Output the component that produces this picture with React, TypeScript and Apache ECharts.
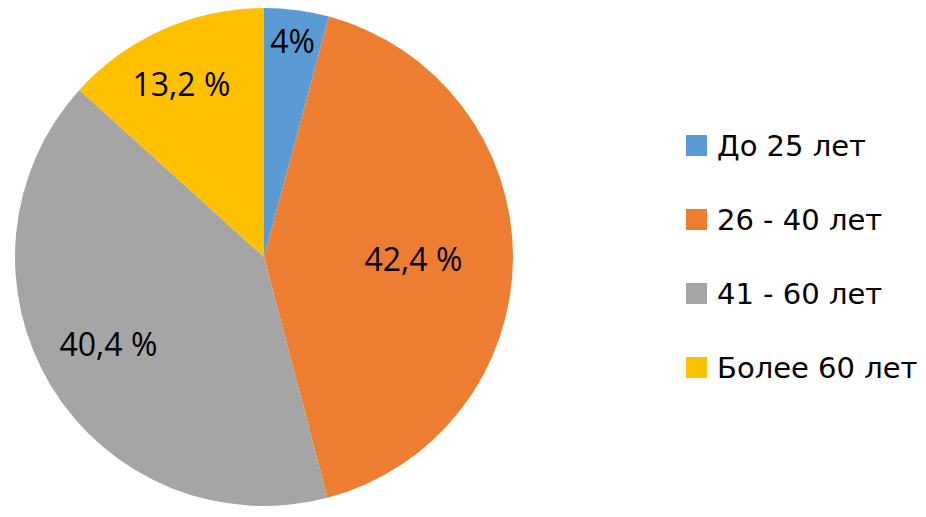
import React, { useEffect, useRef } from "react";
import * as echarts from "echarts";

const categories = ["До 25 лет", "26 - 40 лет", "41 - 60 лет", "Более 60 лет"];
const values = [4.2, 41.7, 40.8, 13.3];
const labelTexts = ["4%", "42,4 %", "40,4 %", "13,2 %"];
const colors = ["#5B9BD5", "#ED7D31", "#A5A5A5", "#FFC000"];
const labelRadiusFactor = [0.87, 0.6, 0.718, 0.766];
const labelAngleNudge = [0, 0.9, 1.8, -1.7];

const CX = 264;
const CY = 257;
const R = 249;

export default function App() {
  const ref = useRef<HTMLDivElement>(null);
  useEffect(() => {
    if (!ref.current) return;
    const chart = echarts.init(ref.current, undefined, { renderer: "svg" });
    const total = values.reduce((a, b) => a + b, 0);
    const mids: number[] = [];
    let acc = 0;
    values.forEach((v) => {
      mids.push((acc + v / 2) / total);
      acc += v;
    });
    chart.setOption({
      animation: false,
      color: colors,
      legend: {
        orient: "vertical",
        left: 681,
        top: 126,
        itemWidth: 21,
        itemHeight: 21,
        itemGap: 45,
        icon: "rect",
        selectedMode: false,
        data: categories,
        textStyle: {
          fontFamily: "DejaVu Sans",
          fontSize: 29,
          color: "#000",
          padding: [0, 0, 0, 5],
        },
      },
      series: [
        {
          type: "pie",
          center: [CX, CY],
          radius: [0, R],
          startAngle: 90,
          clockwise: true,
          avoidLabelOverlap: false,
          data: categories.map((c, i) => ({ name: c, value: values[i] })),
          itemStyle: { borderWidth: 0 },
          label: {
            show: true,
            position: "inside",
            formatter: (p: any) => labelTexts[p.dataIndex],
            fontFamily: "Open Sans",
            fontSize: 32,
            color: "#000",
          },
          labelLine: { show: false },
          labelLayout: (p: any) => {
            const i = p.dataIndex;
            const deg = mids[i] * 360 + labelAngleNudge[i];
            const th = Math.PI / 2 - (deg * Math.PI) / 180;
            const f = labelRadiusFactor[i] * R;
            return {
              x: CX + f * Math.cos(th),
              y: CY - f * Math.sin(th) - 1.5,
              align: "center",
              verticalAlign: "middle",
            };
          },
        },
      ],
    });
    return () => chart.dispose();
  }, []);
  return (
    <div
      ref={ref}
      style={{ position: "absolute", left: 0, top: 0, width: 926, height: 517, background: "#fff" }}
    />
  );
}
